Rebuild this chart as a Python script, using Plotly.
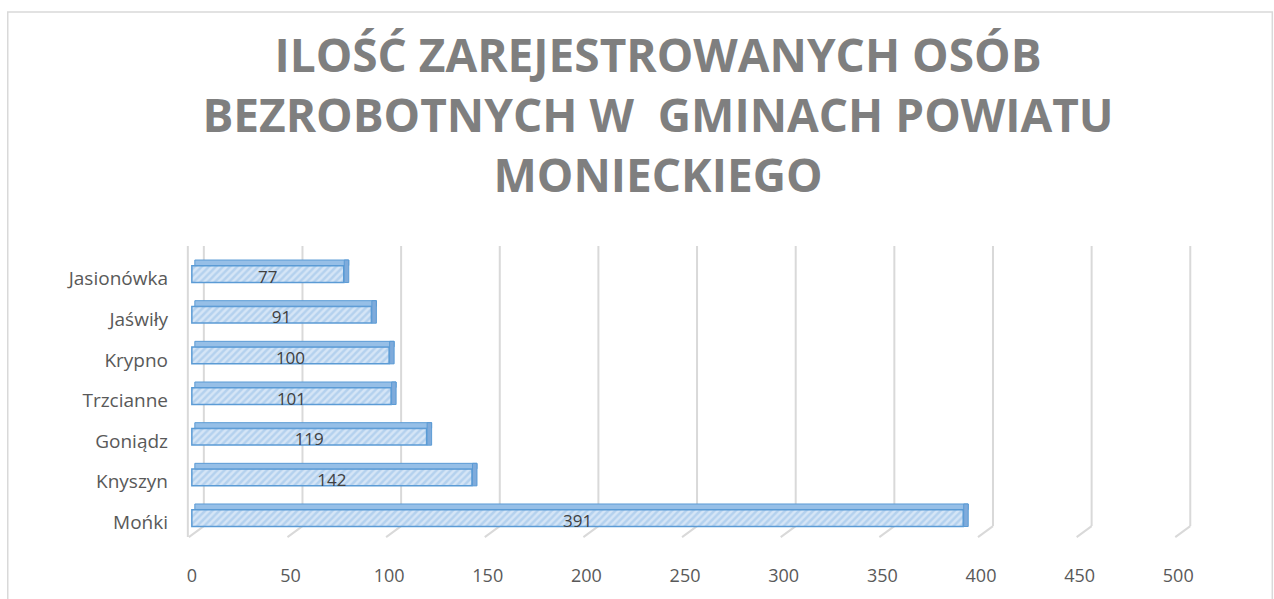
import plotly.graph_objects as go

gminy = ['Mońki', 'Knyszyn', 'Goniądz', 'Trzcianne', 'Krypno', 'Jaświły', 'Jasionówka']
bezrobotni = [391, 142, 119, 101, 100, 91, 77]
x_ticks = [0, 50, 100, 150, 200, 250, 300, 350, 400, 450, 500]

TITLE = 'ILOŚĆ ZAREJESTROWANYCH OSÓB<br>BEZROBOTNYCH W  GMINACH POWIATU<br>MONIECKIEGO'
FONT = 'Open Sans, Liberation Sans, sans-serif'
W, H = 1274, 599

# pixel layout: 0 at x=192, 500 at x=1178; category labels every 41.5 px
PX_PER_UNIT = 986 / 500
X_RANGE = [-6, 510]
Y_RANGE = [-0.75, 6.8]
STEP = 41.5
CAT0 = 528  # pixel row of the first category label
L = 192 + X_RANGE[0] * PX_PER_UNIT
R = W - (192 + X_RANGE[1] * PX_PER_UNIT)
BOTTOM = CAT0 + (0 - Y_RANGE[0]) * STEP
TOP = BOTTOM - (Y_RANGE[1] - Y_RANGE[0]) * STEP
T, B = TOP, H - BOTTOM
units_per_px = 1 / PX_PER_UNIT

BAR_W = 0.41
BAR_LIFT = 4.5  # px the bars sit above the label row
FLOOR = CAT0 + 0.5 * STEP  # pixel row of category -0.5


def paper_x(px):
    return (px - L) / (W - L - R)


def paper_y(px):
    return (BOTTOM - px) / (BOTTOM - TOP)


def up(px):
    # pixel offset above the floor anchor
    return FLOOR - px


fig = go.Figure()

fig.add_trace(go.Bar(
    x=bezrobotni,
    y=gminy,
    orientation='h',
    marker=dict(
        color='#d5e5f6',
        line=dict(color='#5b9bd5', width=1.5),
        pattern=dict(shape='/', fgcolor='#94bde6', size=5, solidity=0.5),
    ),
    width=BAR_W,
    offset=-BAR_W / 2 + BAR_LIFT / STEP,
    hoverinfo='x+y',
))

fig.add_trace(go.Scatter(
    x=[v / 2 for v in bezrobotni],
    y=gminy,
    mode='text',
    text=[str(v) for v in bezrobotni],
    textposition='middle center',
    textfont=dict(family=FONT, size=17, color='#404040'),
    hoverinfo='skip',
))

shapes = []
grid = '#d9d9d9'
for v in x_ticks:
    # back wall gridline + floor diagonal (fake 3D)
    shapes.append(dict(type='line', xref='x', yref='y', xsizemode='pixel', ysizemode='pixel',
                       xanchor=v, yanchor=-0.5, x0=12, x1=12, y0=up(532), y1=up(243),
                       line=dict(color=grid, width=2), layer='below'))
    shapes.append(dict(type='line', xref='x', yref='y', xsizemode='pixel', ysizemode='pixel',
                       xanchor=v, yanchor=-0.5, x0=12, x1=-3, y0=up(532), y1=up(543),
                       line=dict(color=grid, width=2), layer='below'))
# side wall front edge and its top
shapes.append(dict(type='line', xref='x', yref='y', xsizemode='pixel', ysizemode='pixel',
                   xanchor=0, yanchor=-0.5, x0=-4, x1=-4, y0=up(543), y1=up(251),
                   line=dict(color=grid, width=2), layer='below'))
shapes.append(dict(type='line', xref='x', yref='y', xsizemode='pixel', ysizemode='pixel',
                   xanchor=0, yanchor=-0.5, x0=-4, x1=12, y0=up(251), y1=up(243),
                   line=dict(color=grid, width=2), layer='below'))

# bar top and side faces
half = BAR_W * STEP / 2
for i, v in enumerate(bezrobotni):
    shapes.append(dict(type='rect', xref='x', yref='y', ysizemode='pixel', yanchor=i,
                       x0=3 * units_per_px, x1=v + 5 * units_per_px,
                       y0=BAR_LIFT + half, y1=BAR_LIFT + half + 5.5,
                       fillcolor='#96bfe7', line=dict(color='#5b9bd5', width=1), layer='above'))
    shapes.append(dict(type='rect', xref='x', yref='y', xsizemode='pixel', ysizemode='pixel',
                       xanchor=v, yanchor=i, x0=0.5, x1=5,
                       y0=BAR_LIFT - half, y1=BAR_LIFT + half + 5.5,
                       fillcolor='#7fabdb', line=dict(color='#5b9bd5', width=1), layer='above'))

# outer chart border
shapes.append(dict(type='rect', xref='paper', yref='paper',
                   x0=paper_x(8), x1=paper_x(1272), y0=paper_y(610), y1=paper_y(7),
                   line=dict(color='#d9d9d9', width=1.5), fillcolor='rgba(0,0,0,0)', layer='below'))

fig.update_layout(
    width=W,
    height=H,
    margin=dict(l=L, r=R, t=T, b=B, pad=0),
    paper_bgcolor='white',
    plot_bgcolor='white',
    showlegend=False,
    bargap=0.59,
    shapes=shapes,
    font=dict(family=FONT, color='#595959'),
    title=dict(
        text=TITLE,
        x=658 / W,
        xanchor='center',
        xref='container',
        y=1 - 72 / H,
        yanchor='top',
        font=dict(family=FONT, size=46, color='#7f7f7f', weight='bold'),
    ),
    xaxis=dict(
        range=X_RANGE,
        tickvals=x_ticks,
        showgrid=False,
        zeroline=False,
        showline=False,
        ticks='',
        tickfont=dict(size=18, color='#595959'),
        ticklabelstandoff=int(round(18 - (BOTTOM - 551))),
        fixedrange=True,
    ),
    yaxis=dict(
        categoryorder='array',
        categoryarray=gminy,
        range=Y_RANGE,
        showgrid=False,
        zeroline=False,
        showline=False,
        ticks='',
        tickfont=dict(size=19, color='#595959'),
        ticklabelstandoff=11,
        fixedrange=True,
    ),
)

fig.write_html('out.html', config={'displayModeBar': False},
               post_script="document.body.style.margin='0';")
